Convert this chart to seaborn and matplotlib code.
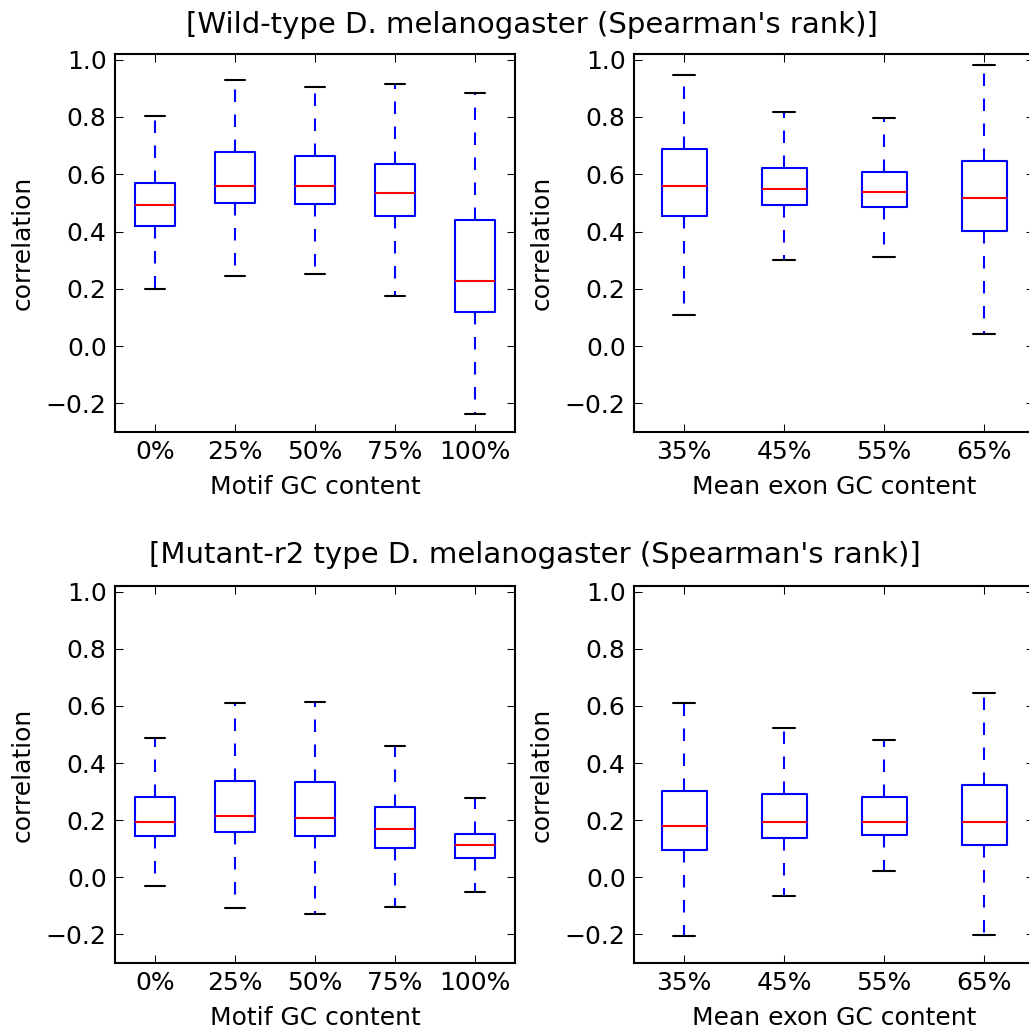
import numpy as np
import pandas as pd
import matplotlib
matplotlib.use("Agg")
import matplotlib.pyplot as plt
import seaborn as sns

# Category labels
motif_gc = ["0%", "25%", "50%", "75%", "100%"]
exon_gc = ["35%", "45%", "55%", "65%"]

# Wild-type, by motif GC content: whisker ends, quartiles and medians
wt_motif_lo = [0.198, 0.244, 0.253, 0.176, -0.237]
wt_motif_q1 = [0.420, 0.501, 0.497, 0.456, 0.119]
wt_motif_med = [0.492, 0.559, 0.559, 0.533, 0.229]
wt_motif_q3 = [0.569, 0.677, 0.663, 0.636, 0.440]
wt_motif_hi = [0.802, 0.930, 0.905, 0.916, 0.885]

# Wild-type, by mean exon GC content
wt_exon_lo = [0.108, 0.300, 0.310, 0.042]
wt_exon_q1 = [0.456, 0.492, 0.487, 0.402]
wt_exon_med = [0.558, 0.549, 0.537, 0.517]
wt_exon_q3 = [0.687, 0.621, 0.608, 0.647]
wt_exon_hi = [0.948, 0.817, 0.797, 0.983]

# Mutant-r2, by motif GC content
mut_motif_lo = [-0.032, -0.108, -0.129, -0.103, -0.052]
mut_motif_q1 = [0.143, 0.158, 0.143, 0.102, 0.066]
mut_motif_med = [0.194, 0.216, 0.209, 0.169, 0.112]
mut_motif_q3 = [0.282, 0.338, 0.333, 0.246, 0.153]
mut_motif_hi = [0.487, 0.610, 0.615, 0.461, 0.276]

# Mutant-r2, by mean exon GC content
mut_exon_lo = [-0.206, -0.067, 0.021, -0.201]
mut_exon_q1 = [0.096, 0.138, 0.148, 0.112]
mut_exon_med = [0.179, 0.194, 0.194, 0.194]
mut_exon_q3 = [0.301, 0.291, 0.282, 0.323]
mut_exon_hi = [0.610, 0.524, 0.482, 0.646]

titles = ["[Wild-type D. melanogaster (Spearman's rank)]",
          "[Mutant-r2 type D. melanogaster (Spearman's rank)]"]
y_ticks = [-0.2, 0.0, 0.2, 0.4, 0.6, 0.8, 1.0]

sns.set_theme(style="white", rc={
    "xtick.direction": "in", "ytick.direction": "in",
    "xtick.top": True, "ytick.right": True,
    "xtick.bottom": True, "ytick.left": True,
    "xtick.major.size": 4, "ytick.major.size": 4,
    "xtick.major.width": 0.5, "ytick.major.width": 0.5,
    "xtick.major.pad": 4, "ytick.major.pad": 4,
    "axes.linewidth": 1.0, "axes.edgecolor": "black",
    "axes.labelcolor": "black", "text.color": "black",
    "xtick.color": "black", "ytick.color": "black",
    "axes.labelpad": 5,
    "font.size": 12, "axes.labelsize": 12,
    "xtick.labelsize": 12, "ytick.labelsize": 12,
})
plt.rcParams["font.family"] = ["DejaVu Sans"]

W, H = 1029, 1035
fig = plt.figure(figsize=(W / 150, H / 150), dpi=150)


def frame(lo, q1, med, q3, hi, labels):
    vals = np.column_stack([lo, q1, med, q3, hi]).ravel()
    return pd.DataFrame({"group": np.repeat(labels, 5), "value": vals})


def panel(rect, df, labels, width, xlabel):
    ax = fig.add_axes(rect)
    sns.boxplot(data=df, x="group", y="value", order=labels, ax=ax,
                width=width, fill=False, whis=(0, 100), showfliers=False,
                linewidth=1, saturation=1, color="blue",
                boxprops=dict(color="blue", linewidth=1),
                medianprops=dict(color="red", linewidth=1),
                whiskerprops=dict(color="blue", linewidth=1,
                                  linestyle=(0, (6, 6))),
                capprops=dict(color="black", linewidth=1))
    ax.set_ylim(-0.3, 1.02)
    ax.set_xlim(-0.5, len(labels) - 0.5)
    ax.set_yticks(y_ticks)
    ax.set_xlabel(xlabel)
    ax.set_ylabel("correlation")
    ax.yaxis.set_label_coords(-0.2, 0.5)
    for s in ax.spines.values():
        s.set_visible(True)
        s.set_color("black")
    ax.tick_params(top=True, right=True, direction="in")
    return ax


def px_rect(left, top, right, bottom):
    return [left / W, 1 - bottom / H, (right - left) / W, (bottom - top) / H]


panel(px_rect(115, 54, 515, 432),
      frame(wt_motif_lo, wt_motif_q1, wt_motif_med, wt_motif_q3, wt_motif_hi, motif_gc),
      motif_gc, 0.5, "Motif GC content")
panel(px_rect(634, 54, 1034, 432),
      frame(wt_exon_lo, wt_exon_q1, wt_exon_med, wt_exon_q3, wt_exon_hi, exon_gc),
      exon_gc, 0.45, "Mean exon GC content")
panel(px_rect(115, 586, 515, 963),
      frame(mut_motif_lo, mut_motif_q1, mut_motif_med, mut_motif_q3, mut_motif_hi, motif_gc),
      motif_gc, 0.5, "Motif GC content")
panel(px_rect(634, 586, 1034, 963),
      frame(mut_exon_lo, mut_exon_q1, mut_exon_med, mut_exon_q3, mut_exon_hi, exon_gc),
      exon_gc, 0.45, "Mean exon GC content")

fig.text(532 / W, 1 - 33 / H, titles[0], ha="center", va="baseline", fontsize=14)
fig.text(535 / W, 1 - 563 / H, titles[1], ha="center", va="baseline", fontsize=14)

fig.savefig("out.png", dpi=150, facecolor="white")
